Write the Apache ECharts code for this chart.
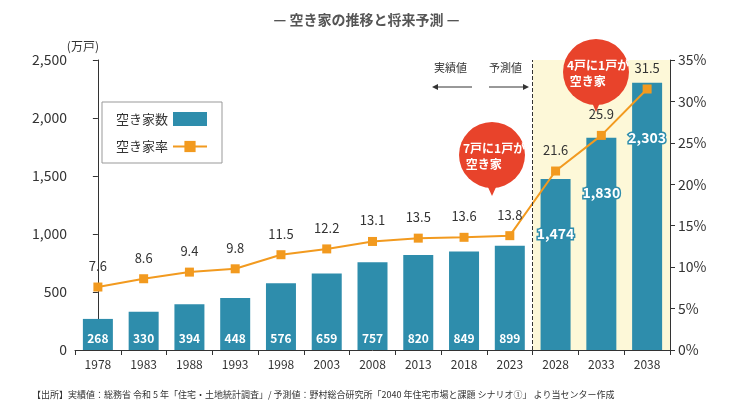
<!DOCTYPE html>
<html>
<head>
<meta charset="utf-8">
<script src="https://cdn.jsdelivr.net/npm/echarts@6/dist/echarts.min.js"></script>
</head>
<body style="margin:0;background:#fff">
<div id="container" style="width:733px;height:418px;"></div>
<script>
var years = ['1978','1983','1988','1993','1998','2003','2008','2013','2018','2023','2028','2033','2038'];
var houses = [268,330,394,448,576,659,757,820,849,899,1474,1830,2303];
var rates = [7.6,8.6,9.4,9.8,11.5,12.2,13.1,13.5,13.6,13.8,21.6,25.9,31.5];
var leftTicks = [0,500,1000,1500,2000,2500];
var rightTicks = [0,5,10,15,20,25,30,35];

var font = '"Noto Sans CJK JP", "Noto Sans", sans-serif';
var myChart = echarts.init(document.getElementById('container'));

function barLabel(v, i) {
    var big = i >= 10;
    return {
        value: v,
        label: {
            show: true,
            position: big ? 'insideTop' : 'insideBottom',
            distance: big ? 48 : 6,
            fontSize: big ? 14 : 12,
            formatter: function (p) { return p.value.toLocaleString('en-US'); }
        }
    };
}

var option = {
    textStyle: { fontFamily: font },
    title: {
        text: '— 空き家の推移と将来予測 —',
        left: 'center', top: 8,
        textStyle: { fontSize: 14, color: '#555', fontWeight: 'bold', fontFamily: font }
    },
    legend: {
        left: 102, top: 102, orient: 'vertical', align: 'right',
        backgroundColor: '#fff', borderColor: '#999', borderWidth: 1,
        padding: [10, 14], itemGap: 14, itemWidth: 34, itemHeight: 14,
        textStyle: { fontSize: 13, color: '#333' },
        data: [
            { name: '空き家数', icon: 'rect' },
            { name: '空き家率' }
        ]
    },
    grid: { left: 75, right: 63, top: 60, bottom: 68 },
    xAxis: [
        {
            type: 'category', data: years,
            axisTick: { show: true, lineStyle: { color: '#333' } },
            axisLine: { lineStyle: { color: '#333' } },
            axisLabel: { color: '#333', fontSize: 12 }
        },
        { type: 'value', min: -0.5, max: 12.5, show: false }
    ],
    yAxis: [
        {
            type: 'value', min: 0, max: 2500, interval: 500,
            name: '(万戸)', nameGap: 8, nameTextStyle: { color: '#333', fontSize: 12, padding: [0, 30, 0, 0] },
            axisLine: { show: true, lineStyle: { color: '#333' } },
            axisTick: { show: true },
            splitLine: { show: false },
            axisLabel: { color: '#333', fontSize: 14, formatter: function (v) { return v.toLocaleString('en-US'); } }
        },
        {
            type: 'value', min: 0, max: 35, interval: 5,
            axisLine: { show: true, lineStyle: { color: '#333' } },
            axisTick: { show: true },
            splitLine: { show: false },
            axisLabel: { color: '#333', fontSize: 14, formatter: '{value}%' }
        }
    ],
    series: [
        {
            name: 'bg', type: 'line', xAxisIndex: 1, data: [], silent: true, z: 0,
            markArea: { silent: true, itemStyle: { color: '#fdf8d8' }, data: [[{ xAxis: 9.5 }, { xAxis: 12.5 }]] },
            markLine: {
                silent: true, symbol: 'none', label: { show: false },
                lineStyle: { type: 'dashed', color: '#333', width: 1 },
                data: [{ xAxis: 9.5 }]
            }
        },
        {
            name: '空き家数', type: 'bar', barWidth: 30,
            itemStyle: { color: '#2e8dac' },
            label: { color: '#fff', fontWeight: 'bold', textBorderColor: '#2e8dac', textBorderWidth: 3 },
            data: houses.map(barLabel)
        },
        {
            name: '空き家率', type: 'line', yAxisIndex: 1,
            symbol: 'rect', symbolSize: 9,
            lineStyle: { color: '#f29a1f', width: 2 },
            itemStyle: { color: '#f29a1f' },
            label: { show: true, position: 'top', distance: 10, color: '#333', fontSize: 13 },
            data: rates
        }
    ],
    graphic: [
        { type: 'text', z: 100, left: 434, top: 62, style: { text: '実績値', fill: '#333', font: '11px ' + font } },
        { type: 'text', z: 100, left: 489, top: 62, style: { text: '予測値', fill: '#333', font: '11px ' + font } },
        { type: 'line', z: 100, shape: { x1: 436, y1: 87, x2: 472, y2: 87 }, style: { stroke: '#333', lineWidth: 1 } },
        { type: 'polygon', z: 100, shape: { points: [[432, 87], [438, 84], [438, 90]] }, style: { fill: '#333' } },
        { type: 'line', z: 100, shape: { x1: 489, y1: 87, x2: 525, y2: 87 }, style: { stroke: '#333', lineWidth: 1 } },
        { type: 'polygon', z: 100, shape: { points: [[529, 87], [523, 84], [523, 90]] }, style: { fill: '#333' } },
        { type: 'polygon', z: 100, shape: { points: [[487, 185], [497, 185], [492, 196]] }, style: { fill: '#e8432b' } },
        { type: 'circle', z: 100, shape: { cx: 492, cy: 155, r: 33 }, style: { fill: '#e8432b' } },
        { type: 'text', z: 101, left: 463, top: 140, style: { text: '7戸に1戸が\n 空き家', fill: '#fff', font: 'bold 12px ' + font, lineHeight: 16 } },
        { type: 'polygon', z: 100, shape: { points: [[591, 100], [601, 100], [596, 112]] }, style: { fill: '#e8432b' } },
        { type: 'circle', z: 100, shape: { cx: 596, cy: 72, r: 33 }, style: { fill: '#e8432b' } },
        { type: 'text', z: 101, left: 567, top: 57, style: { text: '4戸に1戸が\n 空き家', fill: '#fff', font: 'bold 12px ' + font, lineHeight: 16 } },
        { type: 'text', z: 100, left: 32, top: 390, style: { text: '【出所】実績値：総務省 令和 5 年「住宅・土地統計調査」/ 予測値：野村総合研究所「2040 年住宅市場と課題 シナリオ①」 より当センター作成', fill: '#333', font: '9px ' + font } }
    ]
};
myChart.setOption(option);
</script>
</body>
</html>
